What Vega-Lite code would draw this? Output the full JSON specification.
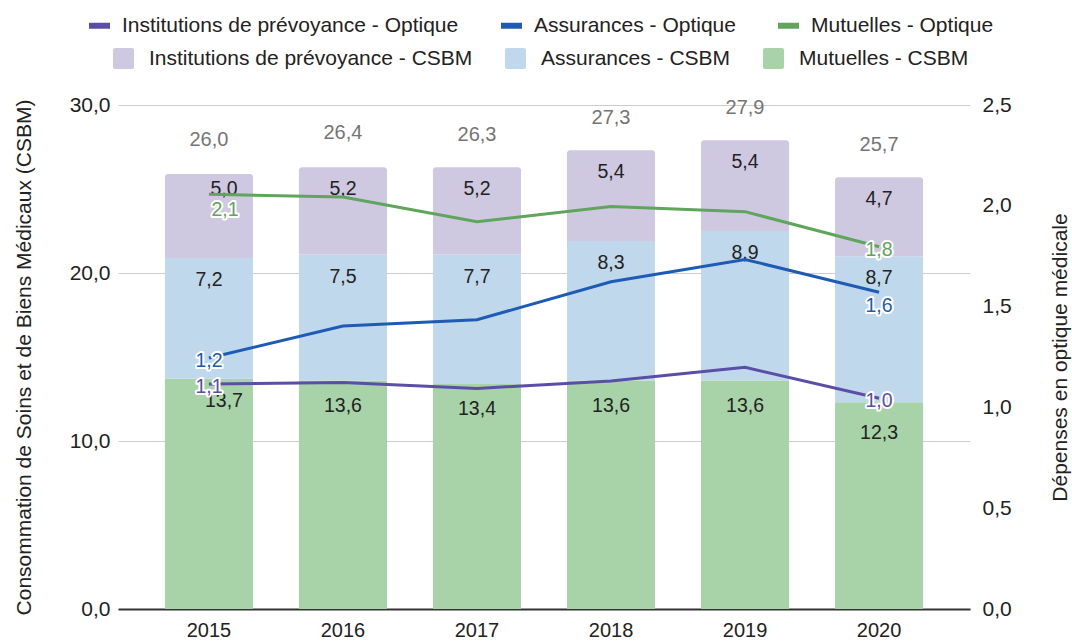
{
  "$schema": "https://vega.github.io/schema/vega-lite/v6.json",
  "width": 852,
  "height": 504,
  "autosize": {"type": "none"},
  "padding": {"left": 118, "top": 105, "right": 102, "bottom": 32},
  "background": "white",
  "config": {
    "font": "Liberation Sans",
    "view": {"stroke": null},
    "locale": {"number": {"decimal": ",", "thousands": "\u00a0", "grouping": [3], "currency": ["", "\u00a0€"]}},
    "axis": {"labelFont": "Liberation Sans", "titleFont": "Liberation Sans", "labelColor": "#222222", "titleColor": "#222222", "titleFontWeight": "normal"},
    "legend": {"labelFont": "Liberation Sans", "labelLimit": 0},
    "text": {"font": "Liberation Sans"}
  },
  "datasets": {
    "csbm": [
      {"annee": "2015", "serie": "Mutuelles - CSBM", "ordre": 1, "valeur": 13.7},
      {"annee": "2015", "serie": "Assurances - CSBM", "ordre": 2, "valeur": 7.2},
      {"annee": "2015", "serie": "Institutions de prévoyance - CSBM", "ordre": 3, "valeur": 5.0},
      {"annee": "2016", "serie": "Mutuelles - CSBM", "ordre": 1, "valeur": 13.6},
      {"annee": "2016", "serie": "Assurances - CSBM", "ordre": 2, "valeur": 7.5},
      {"annee": "2016", "serie": "Institutions de prévoyance - CSBM", "ordre": 3, "valeur": 5.2},
      {"annee": "2017", "serie": "Mutuelles - CSBM", "ordre": 1, "valeur": 13.4},
      {"annee": "2017", "serie": "Assurances - CSBM", "ordre": 2, "valeur": 7.7},
      {"annee": "2017", "serie": "Institutions de prévoyance - CSBM", "ordre": 3, "valeur": 5.2},
      {"annee": "2018", "serie": "Mutuelles - CSBM", "ordre": 1, "valeur": 13.6},
      {"annee": "2018", "serie": "Assurances - CSBM", "ordre": 2, "valeur": 8.3},
      {"annee": "2018", "serie": "Institutions de prévoyance - CSBM", "ordre": 3, "valeur": 5.4},
      {"annee": "2019", "serie": "Mutuelles - CSBM", "ordre": 1, "valeur": 13.6},
      {"annee": "2019", "serie": "Assurances - CSBM", "ordre": 2, "valeur": 8.9},
      {"annee": "2019", "serie": "Institutions de prévoyance - CSBM", "ordre": 3, "valeur": 5.4},
      {"annee": "2020", "serie": "Mutuelles - CSBM", "ordre": 1, "valeur": 12.3},
      {"annee": "2020", "serie": "Assurances - CSBM", "ordre": 2, "valeur": 8.7},
      {"annee": "2020", "serie": "Institutions de prévoyance - CSBM", "ordre": 3, "valeur": 4.7}
    ],
    "totaux": [
      {"annee": "2015", "total": 26.0},
      {"annee": "2016", "total": 26.4},
      {"annee": "2017", "total": 26.3},
      {"annee": "2018", "total": 27.3},
      {"annee": "2019", "total": 27.9},
      {"annee": "2020", "total": 25.7}
    ],
    "optique": [
      {"annee": "2015", "serie": "Institutions de prévoyance - Optique", "valeur": 1.116},
      {"annee": "2016", "serie": "Institutions de prévoyance - Optique", "valeur": 1.124},
      {"annee": "2017", "serie": "Institutions de prévoyance - Optique", "valeur": 1.094},
      {"annee": "2018", "serie": "Institutions de prévoyance - Optique", "valeur": 1.131},
      {"annee": "2019", "serie": "Institutions de prévoyance - Optique", "valeur": 1.199},
      {"annee": "2020", "serie": "Institutions de prévoyance - Optique", "valeur": 1.045},
      {"annee": "2015", "serie": "Assurances - Optique", "valeur": 1.245},
      {"annee": "2016", "serie": "Assurances - Optique", "valeur": 1.404},
      {"annee": "2017", "serie": "Assurances - Optique", "valeur": 1.435},
      {"annee": "2018", "serie": "Assurances - Optique", "valeur": 1.623},
      {"annee": "2019", "serie": "Assurances - Optique", "valeur": 1.734},
      {"annee": "2020", "serie": "Assurances - Optique", "valeur": 1.571},
      {"annee": "2015", "serie": "Mutuelles - Optique", "valeur": 2.057},
      {"annee": "2016", "serie": "Mutuelles - Optique", "valeur": 2.044},
      {"annee": "2017", "serie": "Mutuelles - Optique", "valeur": 1.921},
      {"annee": "2018", "serie": "Mutuelles - Optique", "valeur": 1.996},
      {"annee": "2019", "serie": "Mutuelles - Optique", "valeur": 1.971},
      {"annee": "2020", "serie": "Mutuelles - Optique", "valeur": 1.797}
    ]
  },
  "encoding": {
    "x": {
      "field": "annee", "type": "ordinal",
      "scale": {"paddingInner": 0.343, "paddingOuter": 0.35},
      "axis": {"title": null, "labelAngle": 0, "labelFontSize": 20, "labelPadding": 11, "ticks": false, "domainColor": "#333333", "domainWidth": 2, "grid": false}
    }
  },
  "layer": [
    {
      "data": {"name": "csbm"},
      "transform": [
        {"stack": "valeur", "groupby": ["annee"], "sort": [{"field": "ordre", "order": "ascending"}], "as": ["v0", "v1"]}
      ],
      "layer": [
        {
          "transform": [{"filter": "datum.ordre < 3"}],
          "mark": {"type": "bar"},
          "encoding": {
            "y": {
              "field": "v1", "type": "quantitative",
              "scale": {"domain": [0, 30], "nice": false},
              "axis": {"orient": "left", "title": "Consommation de Soins et de Biens Médicaux (CSBM)", "values": [0, 10, 20, 30], "format": ".1f", "grid": true, "gridColor": "#cccccc", "domain": false, "ticks": false, "labelPadding": 8, "labelFontSize": 21, "titleFontSize": 21, "titlePadding": 35}
            },
            "y2": {"field": "v0"},
            "fill": {
              "field": "serie", "type": "nominal",
              "scale": {"domain": ["Institutions de prévoyance - CSBM", "Assurances - CSBM", "Mutuelles - CSBM"], "range": ["#cfc8e1", "#bfd8eb", "#a8d2a7"]},
              "legend": {"orient": "none", "legendX": -5, "legendY": -57, "direction": "horizontal", "title": null, "labelFontSize": 21, "labelColor": "#222222", "labelOffset": 15, "labelLimit": 0, "columnPadding": 32, "symbolType": "M-0.8,-1H0.8Q1,-1 1,-0.8V0.8Q1,1 0.8,1H-0.8Q-1,1 -1,0.8V-0.8Q-1,-1 -0.8,-1Z", "symbolSize": 441, "symbolStrokeWidth": 0, "symbolOpacity": 1, "padding": 0}
            }
          }
        },
        {
          "transform": [{"filter": "datum.ordre == 3"}],
          "mark": {"type": "bar", "cornerRadiusTopLeft": 3, "cornerRadiusTopRight": 3},
          "encoding": {
            "y": {"field": "v1", "type": "quantitative"},
            "y2": {"field": "v0"},
            "fill": {"field": "serie", "type": "nominal"}
          }
        },
        {
          "transform": [{"filter": "datum.ordre > 1 && !(datum.ordre == 3 && datum.annee == '2015')"}],
          "mark": {"type": "text", "baseline": "middle", "dy": 22, "fontSize": 19.5, "color": "#222222"},
          "encoding": {
            "y": {"field": "v1", "type": "quantitative"},
            "text": {"field": "valeur", "type": "quantitative", "format": ".1f"}
          }
        },
        {
          "transform": [{"filter": "datum.ordre == 1 && datum.annee != '2015' && datum.annee != '2020'"}],
          "mark": {"type": "text", "baseline": "middle", "dy": 25, "fontSize": 19.5, "color": "#222222"},
          "encoding": {
            "y": {"field": "v1", "type": "quantitative"},
            "text": {"field": "valeur", "type": "quantitative", "format": ".1f"}
          }
        },
        {
          "transform": [{"filter": "datum.ordre == 1 && datum.annee == '2020'"}],
          "mark": {"type": "text", "baseline": "middle", "dy": 31, "fontSize": 19.5, "color": "#222222"},
          "encoding": {
            "y": {"field": "v1", "type": "quantitative"},
            "text": {"field": "valeur", "type": "quantitative", "format": ".1f"}
          }
        },
        {
          "transform": [{"filter": "datum.ordre == 1 && datum.annee == '2015'"}],
          "mark": {"type": "text", "baseline": "middle", "dx": 15, "dy": 22, "fontSize": 19.5, "color": "#222222"},
          "encoding": {
            "y": {"field": "v1", "type": "quantitative"},
            "text": {"field": "valeur", "type": "quantitative", "format": ".1f"}
          }
        },
        {
          "transform": [{"filter": "datum.ordre == 3 && datum.annee == '2015'"}],
          "mark": {"type": "text", "baseline": "middle", "dx": 15, "dy": 15, "fontSize": 19.5, "color": "#222222"},
          "encoding": {
            "y": {"field": "v1", "type": "quantitative"},
            "text": {"field": "valeur", "type": "quantitative", "format": ".1f"}
          }
        },
        {
          "data": {"name": "totaux"},
          "transform": [],
          "mark": {"type": "text", "baseline": "middle", "dy": -32, "fontSize": 20, "color": "#757575"},
          "encoding": {
            "y": {"field": "total", "type": "quantitative"},
            "text": {"field": "total", "type": "quantitative", "format": ".1f"}
          }
        }
      ]
    },
    {
      "data": {"name": "optique"},
      "layer": [
        {
          "mark": {"type": "line", "strokeWidth": 3},
          "encoding": {
            "y": {
              "field": "valeur", "type": "quantitative",
              "scale": {"domain": [0, 2.5], "nice": false},
              "axis": {"orient": "right", "title": "Dépenses en optique médicale", "values": [0, 0.5, 1, 1.5, 2, 2.5], "format": ".1f", "grid": false, "domain": false, "ticks": false, "labelPadding": 12, "labelFontSize": 21, "titleFontSize": 21, "titleAngle": 270, "titleBaseline": "top", "titlePadding": 38}
            },
            "stroke": {
              "field": "serie", "type": "nominal",
              "scale": {"domain": ["Institutions de prévoyance - Optique", "Assurances - Optique", "Mutuelles - Optique"], "range": ["#5b4ea6", "#1e5bb5", "#5fa55b"]},
              "legend": {"orient": "none", "legendX": -32, "legendY": -93, "direction": "horizontal", "title": null, "labelFontSize": 21, "labelColor": "#222222", "labelOffset": 9, "labelLimit": 0, "columnPadding": 30, "symbolType": "stroke", "symbolSize": 441, "symbolStrokeWidth": 6, "padding": 0}
            }
          }
        },
        {
          "transform": [{"filter": "(datum.annee == '2015' || datum.annee == '2020') && !(datum.serie == 'Mutuelles - Optique' && datum.annee == '2015') && !(datum.serie == 'Assurances - Optique' && datum.annee == '2020')"}],
          "mark": {"type": "text", "baseline": "middle", "dy": 3, "fontSize": 19.5, "fill": "white", "stroke": "white", "strokeWidth": 4, "strokeJoin": "round"},
          "encoding": {
            "y": {"field": "valeur", "type": "quantitative"},
            "text": {"field": "valeur", "type": "quantitative", "format": ".1f"}
          }
        },
        {
          "transform": [{"filter": "(datum.annee == '2015' || datum.annee == '2020') && !(datum.serie == 'Mutuelles - Optique' && datum.annee == '2015') && !(datum.serie == 'Assurances - Optique' && datum.annee == '2020')"}],
          "mark": {"type": "text", "baseline": "middle", "dy": 3, "fontSize": 19.5},
          "encoding": {
            "y": {"field": "valeur", "type": "quantitative"},
            "text": {"field": "valeur", "type": "quantitative", "format": ".1f"},
            "color": {"field": "serie", "type": "nominal", "legend": null, "scale": {"domain": ["Institutions de prévoyance - Optique", "Assurances - Optique", "Mutuelles - Optique"], "range": ["#5b4ea6", "#1e5bb5", "#5fa55b"]}}
          }
        },
        {
          "transform": [{"filter": "datum.serie == 'Mutuelles - Optique' && datum.annee == '2015'"}],
          "mark": {"type": "text", "baseline": "middle", "dx": 16, "dy": 16, "fontSize": 19.5, "fill": "white", "stroke": "white", "strokeWidth": 4, "strokeJoin": "round"},
          "encoding": {
            "y": {"field": "valeur", "type": "quantitative"},
            "text": {"field": "valeur", "type": "quantitative", "format": ".1f"}
          }
        },
        {
          "transform": [{"filter": "datum.serie == 'Mutuelles - Optique' && datum.annee == '2015'"}],
          "mark": {"type": "text", "baseline": "middle", "dx": 16, "dy": 16, "fontSize": 19.5},
          "encoding": {
            "y": {"field": "valeur", "type": "quantitative"},
            "text": {"field": "valeur", "type": "quantitative", "format": ".1f"},
            "color": {"field": "serie", "type": "nominal", "legend": null}
          }
        },
        {
          "transform": [{"filter": "datum.serie == 'Assurances - Optique' && datum.annee == '2020'"}],
          "mark": {"type": "text", "baseline": "middle", "dy": 14, "fontSize": 19.5, "fill": "white", "stroke": "white", "strokeWidth": 4, "strokeJoin": "round"},
          "encoding": {
            "y": {"field": "valeur", "type": "quantitative"},
            "text": {"field": "valeur", "type": "quantitative", "format": ".1f"}
          }
        },
        {
          "transform": [{"filter": "datum.serie == 'Assurances - Optique' && datum.annee == '2020'"}],
          "mark": {"type": "text", "baseline": "middle", "dy": 14, "fontSize": 19.5},
          "encoding": {
            "y": {"field": "valeur", "type": "quantitative"},
            "text": {"field": "valeur", "type": "quantitative", "format": ".1f"},
            "color": {"field": "serie", "type": "nominal", "legend": null}
          }
        }
      ]
    }
  ],
  "resolve": {"scale": {"y": "independent"}}
}
